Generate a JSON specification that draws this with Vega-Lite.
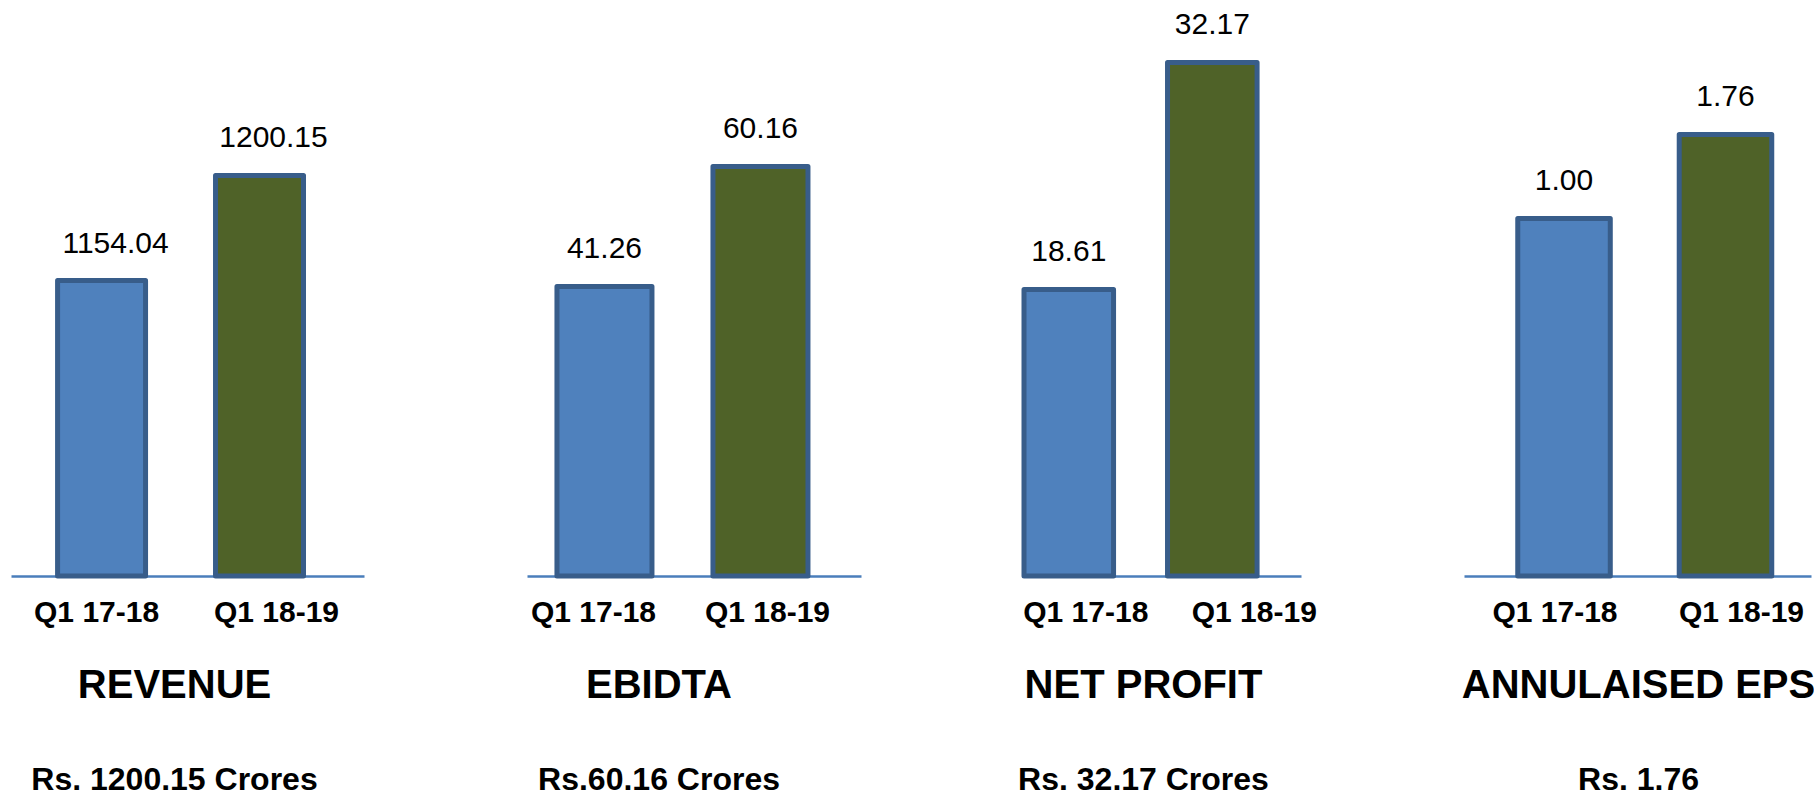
{
  "$schema": "https://vega.github.io/schema/vega-lite/v6.json",
  "padding": {"left": 11, "top": 0, "right": 0, "bottom": 0},
  "background": "white",
  "data": {"values": [
    {"metric": "REVENUE", "period": "Q1 17-18", "value": 1154.04},
    {"metric": "REVENUE", "period": "Q1 18-19", "value": 1200.15},
    {"metric": "EBIDTA", "period": "Q1 17-18", "value": 41.26},
    {"metric": "EBIDTA", "period": "Q1 18-19", "value": 60.16},
    {"metric": "NET PROFIT", "period": "Q1 17-18", "value": 18.61},
    {"metric": "NET PROFIT", "period": "Q1 18-19", "value": 32.17},
    {"metric": "ANNULAISED EPS", "period": "Q1 17-18", "value": 1.00},
    {"metric": "ANNULAISED EPS", "period": "Q1 18-19", "value": 1.76}
  ]},
  "spacing": 163,
  "bounds": "flush",
  "config": {
    "view": {"stroke": null},
    "font": "Liberation Sans",
    "axisX": {
      "title": null, "labelAngle": 0, "labelFont": "Liberation Sans", "labelFontWeight": "bold",
      "labelFontSize": 30, "labelColor": "black", "labelPadding": 21, "ticks": false, "tickSize": 0,
      "domainColor": "#4A7EBB", "domainWidth": 2.5, "grid": false
    },
    "title": {
      "orient": "bottom", "anchor": "middle", "font": "Liberation Sans", "fontWeight": "bold",
      "fontSize": 40, "color": "black", "subtitleFont": "Liberation Sans", "subtitleFontWeight": "bold",
      "subtitleFontSize": 32, "subtitleColor": "black", "offset": 39, "subtitlePadding": 59, "baseline": "top"
    },
    "bar": {"stroke": "#385D8A", "strokeWidth": 5, "strokeJoin": "round"},
    "text": {"fontSize": 30, "color": "black", "baseline": "middle", "dy": -37, "font": "Liberation Sans"}
  },
  "hconcat": [
    {
      "width": 353, "height": 576,
      "transform": [{"filter": "datum.metric === 'REVENUE'"}],
      "title": {"text": "REVENUE", "subtitle": "Rs. 1200.15 Crores", "dx": -13},
      "encoding": {
        "x": {"field": "period", "type": "nominal", "sort": null,
              "scale": {"paddingInner": 0.443, "paddingOuter": 0.339, "align": 0.435},
              "axis": {"labelOffset": {"condition": {"test": "datum.value === 'Q1 18-19'", "value": 17}, "value": -5}}},
        "y": {"field": "value", "type": "quantitative", "scale": {"domain": [1024.3, 1277.2], "nice": false, "zero": false}, "axis": null}
      },
      "layer": [
        {"mark": "bar", "encoding": {"y2": {"datum": 1024.3},
          "color": {"field": "period", "type": "nominal", "scale": {"domain": ["Q1 17-18", "Q1 18-19"], "range": ["#4F81BD", "#4F6228"]}, "legend": null}}},
        {"mark": {"type": "text", "dx": 14}, "encoding": {"text": {"field": "value", "type": "quantitative", "format": ".2f"}}}
      ]
    },
    {
      "width": 334, "height": 576,
      "transform": [{"filter": "datum.metric === 'EBIDTA'"}],
      "title": {"text": "EBIDTA", "subtitle": "Rs.60.16 Crores", "dx": -35},
      "encoding": {
        "x": {"field": "period", "type": "nominal", "sort": null,
              "scale": {"paddingInner": 0.391, "paddingOuter": 0.266, "align": 0.361},
              "axis": {"labelOffset": {"condition": {"test": "datum.value === 'Q1 18-19'", "value": 7}, "value": -11}}},
        "y": {"field": "value", "type": "quantitative", "scale": {"domain": [-4.34, 86.38], "nice": false, "zero": false}, "axis": null}
      },
      "layer": [
        {"mark": "bar", "encoding": {"y2": {"datum": -4.34},
          "color": {"field": "period", "type": "nominal", "scale": {"domain": ["Q1 17-18", "Q1 18-19"], "range": ["#4F81BD", "#4F6228"]}, "legend": null}}},
        {"mark": {"type": "text"}, "encoding": {"text": {"field": "value", "type": "quantitative", "format": ".2f"}}}
      ]
    },
    {
      "width": 277, "height": 576,
      "transform": [{"filter": "datum.metric === 'NET PROFIT'"}],
      "title": {"text": "NET PROFIT", "subtitle": "Rs. 32.17 Crores", "dx": -19},
      "encoding": {
        "x": {"field": "period", "type": "nominal", "sort": null,
              "scale": {"paddingInner": 0.376, "paddingOuter": 0.153, "align": 0},
              "axis": {"labelOffset": {"condition": {"test": "datum.value === 'Q1 18-19'", "value": 42}, "value": 17}}},
        "y": {"field": "value", "type": "quantitative", "scale": {"domain": [1.496, 35.9], "nice": false, "zero": false}, "axis": null}
      },
      "layer": [
        {"mark": "bar", "encoding": {"y2": {"datum": 1.496},
          "color": {"field": "period", "type": "nominal", "scale": {"domain": ["Q1 17-18", "Q1 18-19"], "range": ["#4F81BD", "#4F6228"]}, "legend": null}}},
        {"mark": {"type": "text"}, "encoding": {"text": {"field": "value", "type": "quantitative", "format": ".2f"}}}
      ]
    },
    {
      "width": 347, "height": 576,
      "transform": [{"filter": "datum.metric === 'ANNULAISED EPS'"}],
      "title": {"text": "ANNULAISED EPS", "subtitle": "Rs. 1.76", "dx": 1},
      "encoding": {
        "x": {"field": "period", "type": "nominal", "sort": null,
              "scale": {"paddingInner": 0.427, "paddingOuter": 0.288, "align": 0.578},
              "axis": {"labelOffset": {"condition": {"test": "datum.value === 'Q1 18-19'", "value": 16}, "value": -9}}},
        "y": {"field": "value", "type": "quantitative", "scale": {"domain": [-2.234, 2.976], "nice": false, "zero": false}, "axis": null}
      },
      "layer": [
        {"mark": "bar", "encoding": {"y2": {"datum": -2.234},
          "color": {"field": "period", "type": "nominal", "scale": {"domain": ["Q1 17-18", "Q1 18-19"], "range": ["#4F81BD", "#4F6228"]}, "legend": null}}},
        {"mark": {"type": "text"}, "encoding": {"text": {"field": "value", "type": "quantitative", "format": ".2f"}}}
      ]
    }
  ]
}
